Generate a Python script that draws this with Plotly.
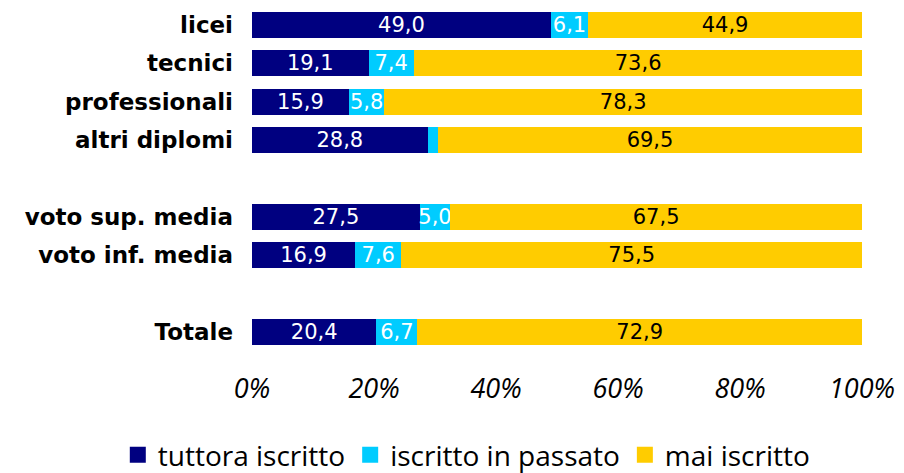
import plotly.graph_objects as go

categorie = ['licei', 'tecnici', 'professionali', 'altri diplomi',
             'voto sup. media', 'voto inf. media', 'Totale']
# posizione delle righe (con righe vuote tra i gruppi)
righe = [0, 1, 2, 3, 5, 6, 8]

tuttora_iscritto = [49.0, 19.1, 15.9, 28.8, 27.5, 16.9, 20.4]
iscritto_passato = [6.1, 7.4, 5.8, 1.7, 5.0, 7.6, 6.7]
mai_iscritto = [44.9, 73.6, 78.3, 69.5, 67.5, 75.5, 72.9]

tick_x = [0, 20, 40, 60, 80, 100]
tick_x_testo = ['0%', '20%', '40%', '60%', '80%', '100%']


def etichette(valori, minimo=3):
    # numeri con la virgola decimale, vuoti se il segmento è troppo piccolo
    return [f'{v:.1f}'.replace('.', ',') if v >= minimo else '' for v in valori]


serie = [
    ('tuttora iscritto', tuttora_iscritto, '#000080', 'white'),
    ('iscritto in passato', iscritto_passato, '#00CCFF', 'white'),
    ('mai iscritto', mai_iscritto, '#FFCC00', 'black'),
]

fig = go.Figure()
for nome, valori, colore, col_testo in serie:
    fig.add_trace(go.Bar(
        name=nome,
        x=valori,
        y=righe,
        orientation='h',
        marker=dict(color=colore, line=dict(width=0)),
        text=etichette(valori),
        textposition='inside',
        insidetextanchor='middle',
        constraintext='none',
        textfont=dict(family='DejaVu Sans', size=21, color=col_testo),
        width=0.68,
        showlegend=False,
    ))

# voci di legenda con quadratini più grandi
for nome, valori, colore, col_testo in serie:
    fig.add_trace(go.Scatter(
        name=nome,
        x=[None], y=[None],
        mode='markers',
        marker=dict(symbol='square', size=18, color=colore),
        showlegend=True,
    ))

# la pagina ha un margine di 8px: si compensa qui
fig.update_layout(
    barmode='stack',
    width=904,
    height=473,
    margin=dict(l=244, r=50, t=0, b=130, autoexpand=False),
    plot_bgcolor='white',
    paper_bgcolor='white',
    showlegend=True,
    legend=dict(
        orientation='h',
        x=-0.220, xanchor='left',
        y=-0.303, yanchor='middle',
        font=dict(family='Open Sans', size=28, color='black'),
        itemwidth=30,
        traceorder='normal',
    ),
)

fig.update_xaxes(
    range=[0, 100],
    tickvals=tick_x,
    ticktext=tick_x_testo,
    showgrid=False,
    zeroline=False,
    showline=False,
    automargin=False,
    ticklabelstandoff=19,
    tickfont=dict(family='Open Sans', size=27, color='black', style='italic'),
)

fig.update_yaxes(
    range=[8.495, -0.443],
    tickvals=righe,
    ticktext=categorie,
    showgrid=False,
    zeroline=False,
    showline=False,
    automargin=False,
    ticklabelstandoff=18,
    tickfont=dict(family='DejaVu Sans', size=23, color='black', weight='bold'),
)

fig.write_html('out.html')
